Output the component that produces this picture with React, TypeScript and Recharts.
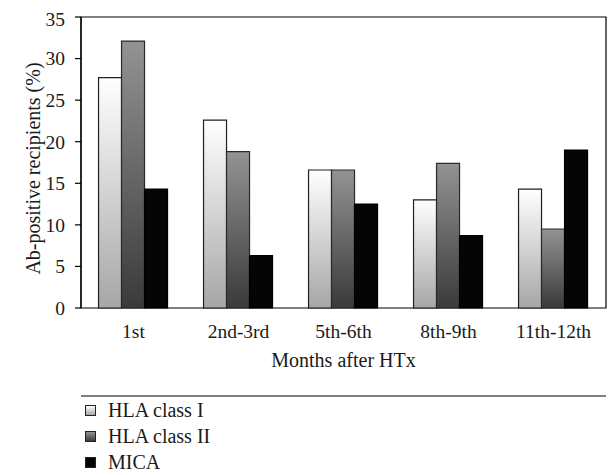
import { BarChart, Bar, XAxis, YAxis, ReferenceArea } from 'recharts';

const months = ['1st', '2nd-3rd', '5th-6th', '8th-9th', '11th-12th'];
const hlaClassI = [27.7, 22.6, 16.6, 13.0, 14.3];
const hlaClassII = [32.1, 18.8, 16.6, 17.4, 9.5];
const mica = [14.3, 6.3, 12.5, 8.7, 19.0];
const yTicks = [0, 5, 10, 15, 20, 25, 30, 35];
const edgeTicks = [0, 1, 2, 3, 4, 5];

const seriesInfo = [
  { key: 'hlaI', name: 'HLA class I', fill: 'url(#gradHlaI)', stroke: '#1f1f1f', swatch: 'linear-gradient(#ffffff, #a6a6a6)' },
  { key: 'hlaII', name: 'HLA class II', fill: 'url(#gradHlaII)', stroke: '#2a2a2a', swatch: 'linear-gradient(#939393, #3a3a3a)' },
  { key: 'mica', name: 'MICA', fill: '#050505', stroke: '#000000', swatch: '#050505' },
];

const chartData = months.map((m, i) => ({
  month: m,
  pos: i + 0.5,
  hlaI: hlaClassI[i],
  hlaII: hlaClassII[i],
  mica: mica[i],
}));

const FONT = '"Liberation Serif", "Times New Roman", serif';
const TEXT = '#1a1a1a';
const tickStyle = { fontSize: 19.5, fill: TEXT, fontFamily: FONT };

function LegendBox() {
  return (
    <div style={{ fontFamily: FONT, fontSize: 20, color: TEXT, marginLeft: 77 }}>
      {seriesInfo.map((s) => (
        <div key={s.key} style={{ display: 'flex', alignItems: 'center', height: 26 }}>
          <span
            style={{
              display: 'inline-block',
              width: 9,
              height: 9,
              background: s.swatch,
              border: '1px solid #222',
              marginRight: 12,
            }}
          />
          <span>{s.name}</span>
        </div>
      ))}
    </div>
  );
}

export default function App() {
  // fixed so the legend running into the body margin does not make the page scroll
  return (
    <div style={{ position: 'fixed', left: 8, top: 8, width: 602, height: 467, background: '#fff' }}>
      <BarChart
        width={602}
        height={389}
        data={chartData}
        margin={{ top: 9, right: 4, left: 0, bottom: 0 }}
        barCategoryGap="16.7%"
        barGap={0}
      >
        <defs>
          <linearGradient id="gradHlaI" x1="0" y1="0" x2="0" y2="1">
            <stop offset="0%" stopColor="#ffffff" />
            <stop offset="100%" stopColor="#a6a6a6" />
          </linearGradient>
          <linearGradient id="gradHlaII" x1="0" y1="0" x2="0" y2="1">
            <stop offset="0%" stopColor="#939393" />
            <stop offset="100%" stopColor="#3a3a3a" />
          </linearGradient>
        </defs>
        <XAxis
          xAxisId="edge"
          dataKey="pos"
          type="number"
          domain={[0, 5]}
          ticks={edgeTicks}
          allowDataOverflow
          height={1}
          tick={false}
          tickSize={6}
          axisLine={{ stroke: '#000', strokeWidth: 1.2 }}
          tickLine={{ stroke: '#000', strokeWidth: 1.2 }}
        />
        <XAxis
          dataKey="month"
          height={88}
          axisLine={false}
          tickLine={false}
          tickSize={6}
          tickMargin={10}
          tick={tickStyle}
          interval={0}
          label={{
            value: 'Months after HTx',
            position: 'insideBottom',
            offset: 29,
            fill: TEXT,
            style: { fontSize: 20, fill: TEXT, fontFamily: FONT },
          }}
        />
        <YAxis
          domain={[0, 35]}
          ticks={yTicks}
          width={73}
          tickSize={6}
          tickMargin={10}
          tick={tickStyle}
          axisLine={{ stroke: '#000', strokeWidth: 1.2 }}
          tickLine={{ stroke: '#000', strokeWidth: 1.2 }}
          label={{
            value: 'Ab-positive recipients (%)',
            angle: -90,
            position: 'center',
            dx: -12,
            dy: 6,
            fill: TEXT,
            style: { fontSize: 20, fill: TEXT, fontFamily: FONT, textAnchor: 'middle' },
          }}
        />
        <ReferenceArea
          xAxisId="edge"
          x1={0}
          x2={5}
          y1={0}
          y2={35}
          fill="none"
          fillOpacity={0}
          stroke="#000"
          strokeWidth={1.2}
          ifOverflow="visible"
        />
        {seriesInfo.map((s) => (
          <Bar
            key={s.key}
            dataKey={s.key}
            name={s.name}
            fill={s.fill}
            stroke={s.stroke}
            strokeWidth={1.2}
            isAnimationActive={false}
          />
        ))}
      </BarChart>
      <LegendBox />
    </div>
  );
}
